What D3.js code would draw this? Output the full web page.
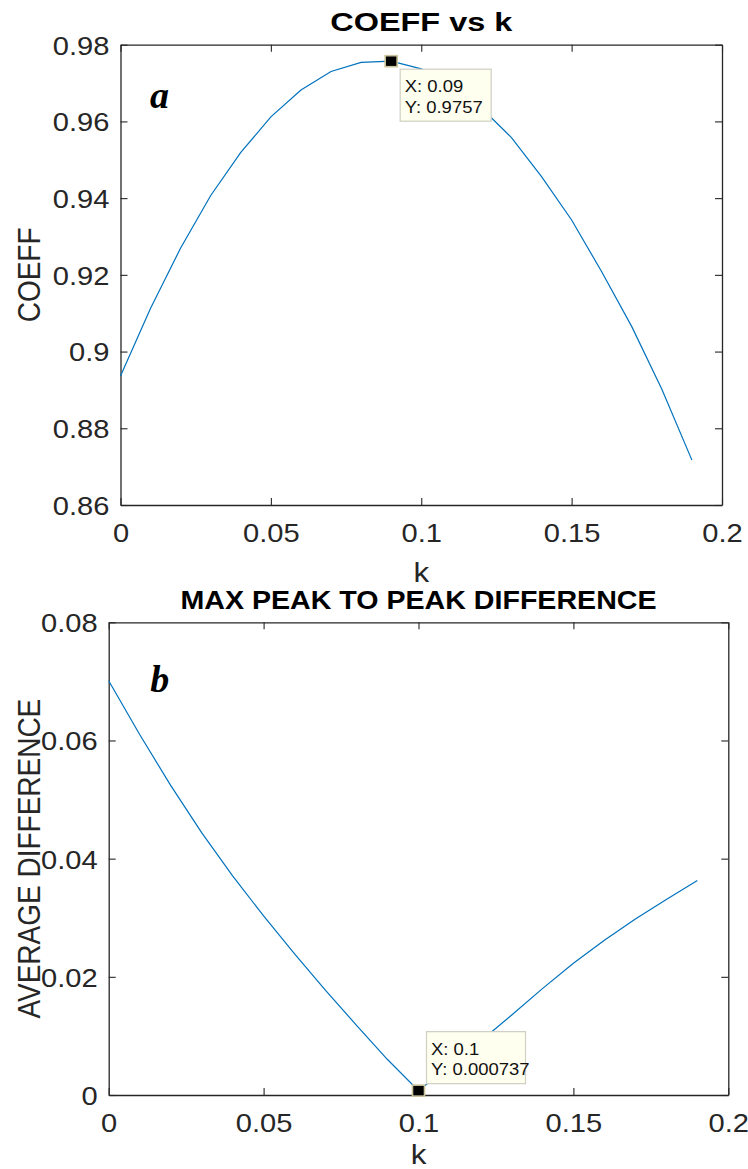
<!DOCTYPE html>
<html>
<head>
<meta charset="utf-8">
<script src="https://cdn.jsdelivr.net/npm/d3@7"></script>
<style>
  html, body { margin: 0; padding: 0; background: #ffffff; }
  svg { display: block; }
</style>
</head>
<body>
<svg id="fig" width="748" height="1169"></svg>
<script>
// k sweep shared by both panels
const kValues = [0, 0.01, 0.02, 0.03, 0.04, 0.05, 0.06, 0.07, 0.08, 0.09,
                 0.1, 0.11, 0.12, 0.13, 0.14, 0.15, 0.16, 0.17, 0.18, 0.19];

// panel a: correlation coefficient against k
const coeffValues = [0.8936, 0.9113, 0.9270, 0.9407, 0.9519, 0.9612, 0.9682, 0.9730, 0.9754, 0.9757,
                     0.9737, 0.9697, 0.9635, 0.9558, 0.9456, 0.9343, 0.9208, 0.9065, 0.8902, 0.8717];

// panel b: average peak-to-peak difference against k
const diffValues = [0.0701, 0.0610, 0.0524, 0.0444, 0.0371, 0.0303, 0.0239, 0.0177, 0.0118, 0.0060,
                    0.000737, 0.0049, 0.0091, 0.0135, 0.0180, 0.0223, 0.0262, 0.0298, 0.0331, 0.0363];

// axis ticks and their labels
const xTicks = [0, 0.05, 0.1, 0.15, 0.2];
const xTickLabels = ["0", "0.05", "0.1", "0.15", "0.2"];
const coeffTicks = [0.86, 0.88, 0.9, 0.92, 0.94, 0.96, 0.98];
const coeffTickLabels = ["0.86", "0.88", "0.9", "0.92", "0.94", "0.96", "0.98"];
const diffTicks = [0, 0.02, 0.04, 0.06, 0.08];
const diffTickLabels = ["0", "0.02", "0.04", "0.06", "0.08"];

const svg = d3.select("#fig");
const AXIS = "#262626";
const LINE = "#0072BD";
const SANS = "'Liberation Sans', Arial, Helvetica, sans-serif";
const SERIF = "'Liberation Serif', 'Times New Roman', serif";
const SX = 1.12; // horizontal stretch of the lettering

function label(g, x, y, str, o) {
  const t = g.append("text")
    .attr("transform", `translate(${x},${y}) rotate(${o.rotate || 0}) scale(${o.sx || 1},1)`)
    .attr("text-anchor", o.anchor || "start")
    .attr("font-family", o.family || SANS)
    .attr("font-size", o.size)
    .attr("font-weight", o.weight || "normal")
    .attr("font-style", o.style || "normal")
    .attr("fill", o.fill || AXIS)
    .text(str);
  if (o.length) t.attr("textLength", o.length).attr("lengthAdjust", "spacingAndGlyphs");
  return t;
}

function panel(cfg) {
  const x = d3.scaleLinear().domain([0, 0.2]).range([cfg.left, cfg.right]);
  const y = d3.scaleLinear().domain(cfg.yDomain).range([cfg.bottom, cfg.top]);
  const g = svg.append("g");

  // inward ticks on all four sides
  const fmtX = d => xTickLabels[xTicks.indexOf(d)];
  const fmtY = d => cfg.yLabels[cfg.yTicks.indexOf(d)];

  const bottomAxis = g.append("g").attr("transform", `translate(0,${cfg.bottom})`)
    .call(d3.axisBottom(x).tickValues(xTicks).tickFormat(fmtX).tickSizeInner(-7).tickSizeOuter(0).tickPadding(0));
  const leftAxis = g.append("g").attr("transform", `translate(${cfg.left},0)`)
    .call(d3.axisLeft(y).tickValues(cfg.yTicks).tickFormat(fmtY).tickSizeInner(-7).tickSizeOuter(0).tickPadding(0));
  g.append("g").attr("transform", `translate(0,${cfg.top})`)
    .call(d3.axisTop(x).tickValues(xTicks).tickFormat("").tickSizeInner(-7).tickSizeOuter(0));
  g.append("g").attr("transform", `translate(${cfg.right},0)`)
    .call(d3.axisRight(y).tickValues(cfg.yTicks).tickFormat("").tickSizeInner(-7).tickSizeOuter(0));

  g.selectAll(".domain").attr("stroke", AXIS).attr("stroke-width", 1.3);
  g.selectAll(".tick line").attr("stroke", AXIS).attr("stroke-width", 1.1);
  g.selectAll(".tick text").attr("fill", AXIS);

  bottomAxis.selectAll(".tick text")
    .attr("y", null).attr("dy", null)
    .attr("transform", `translate(0,${cfg.xTickBase - cfg.bottom}) scale(${SX},1)`)
    .attr("font-family", SANS).attr("font-size", 26).attr("text-anchor", "middle");
  leftAxis.selectAll(".tick text")
    .attr("x", null).attr("dy", "0.36em")
    .attr("transform", `translate(-11,0) scale(${SX},1)`)
    .attr("font-family", SANS).attr("font-size", 26).attr("text-anchor", "end");

  // curve
  g.append("path")
    .datum(kValues.map((k, i) => [k, cfg.values[i]]))
    .attr("fill", "none").attr("stroke", LINE).attr("stroke-width", 1.2)
    .attr("d", d3.line().x(d => x(d[0])).y(d => y(d[1])));

  // titles and axis labels
  const cx = (cfg.left + cfg.right) / 2;
  label(g, cx, cfg.titleBase, cfg.title, { size: 26.5, weight: "bold", anchor: "middle", fill: "#000", length: cfg.titleLen });
  label(g, cx, cfg.kBase, "k", { size: 28, anchor: "middle", sx: SX });
  const cy = (cfg.top + cfg.bottom) / 2;
  g.append("text")
    .attr("transform", `translate(39.5,${cy}) scale(${SX},1) rotate(-90)`)
    .attr("text-anchor", "middle").attr("font-family", SANS).attr("font-size", 28)
    .attr("fill", AXIS).text(cfg.yTitle);

  // panel letter
  label(g, cfg.left + cfg.letterDx, cfg.letterBase, cfg.letter,
    { size: 38, weight: "bold", style: "italic", family: SERIF, fill: "#000" });

  // data tip on the highlighted sample
  const idx = cfg.tipIndex;
  const mx = x(kValues[idx]), my = y(cfg.values[idx]);
  const bx = mx + cfg.tip.dx, by = my + cfg.tip.dy;
  g.append("rect").attr("x", bx).attr("y", by).attr("width", cfg.tip.w).attr("height", 52)
    .attr("fill", "#FFFFEF").attr("stroke", "#cfcfc4").attr("stroke-width", 1.2);
  label(g, bx + 4.5, by + 23, "X: " + kValues[idx], { size: 16.5, sx: SX, fill: "#111" });
  label(g, bx + 4.5, by + 43.5, "Y: " + cfg.values[idx], { size: 16.5, sx: SX, fill: "#111" });
  g.append("rect").attr("x", mx - 6).attr("y", my - 5.5).attr("width", 12).attr("height", 11)
    .attr("fill", "#000").attr("stroke", "#c9c29a").attr("stroke-width", 1.6);
}

const peakIndex = d3.maxIndex(coeffValues);
const minIndex = d3.minIndex(diffValues);

panel({
  left: 120.5, right: 722, top: 44.7, bottom: 505,
  yDomain: [0.86, 0.98], yTicks: coeffTicks, yLabels: coeffTickLabels,
  values: coeffValues, xTickBase: 542, kBase: 582,
  title: "COEFF vs k", titleBase: 30.5, titleLen: 182,
  yTitle: "COEFF", letter: "a", letterDx: 29.5, letterBase: 108,
  tipIndex: peakIndex, tip: { dx: 9, dy: 8, w: 91 }
});

panel({
  left: 108.7, right: 728.3, top: 622.3, bottom: 1095,
  yDomain: [0, 0.08], yTicks: diffTicks, yLabels: diffTickLabels,
  values: diffValues, xTickBase: 1132, kBase: 1164,
  title: "MAX PEAK TO PEAK DIFFERENCE", titleBase: 608.5, titleLen: 476,
  yTitle: "AVERAGE DIFFERENCE", letter: "b", letterDx: 41.5, letterBase: 691.5,
  tipIndex: minIndex, tip: { dx: 8, dy: -59, w: 99 }
});
</script>
</body>
</html>
